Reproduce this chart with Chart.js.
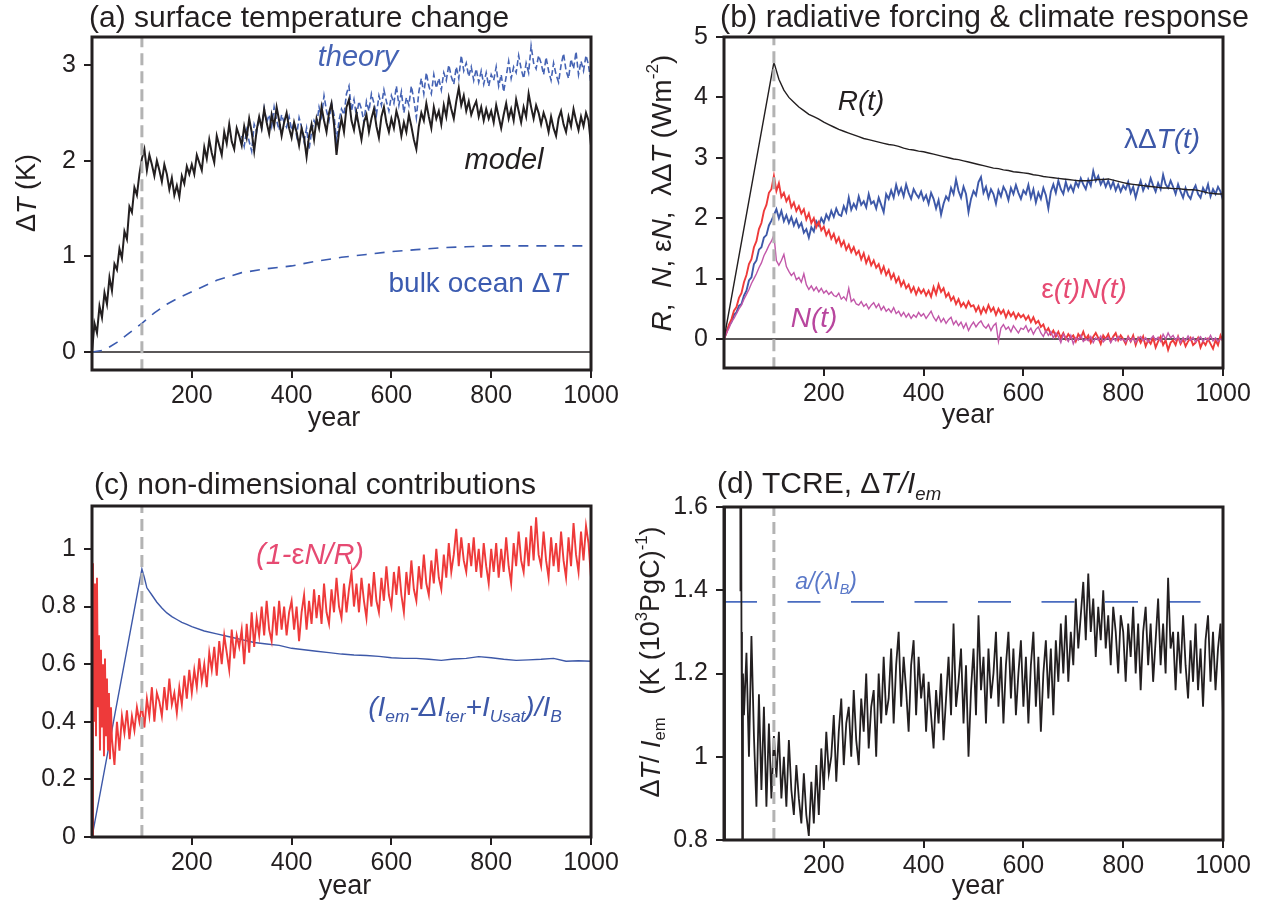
<!DOCTYPE html>
<html>
<head>
<meta charset="utf-8">
<script src="https://cdn.jsdelivr.net/npm/chart.js@4.4.1/dist/chart.umd.min.js"></script>
<style>
  html, body { margin: 0; padding: 0; background: #fff; }
  #wrap { position: relative; width: 1267px; height: 909px; overflow: hidden; }
  canvas { position: absolute; }
</style>
</head>
<body>
<div id="wrap">
  <canvas id="ca" width="633" height="450" style="left:0;top:0"></canvas>
  <canvas id="cb" width="634" height="450" style="left:633px;top:0"></canvas>
  <canvas id="cc" width="633" height="459" style="left:0;top:450px"></canvas>
  <canvas id="cd" width="634" height="459" style="left:633px;top:450px"></canvas>
</div>
<script>
// ---- sampling grids (years) ----
const years5 = [];
for (let y = 0; y <= 1000; y += 5) years5.push(y);
const yearsR = [0];
for (let y = 100; y <= 1000; y += 10) yearsR.push(y);
const yearsRedC = [];
for (let y = 0; y <= 40; y += 2) yearsRedC.push(y);
for (let y = 45; y <= 1000; y += 5) yearsRedC.push(y);
const yearsTcre = [1, 2, 3, 10, 20, 30, 32, 33, 34, 35, 36, 37, 38, 40];
for (let y = 45; y <= 1000; y += 5) yearsTcre.push(y);

const xTicks = [200, 400, 600, 800, 1000];
const emissionStop = 100;

// ---- (a) surface temperature change ----
const modelT = [
  0.00,0.30,0.20,0.48,0.36,0.62,0.50,0.78,0.64,0.92,0.86,1.08,0.98,1.26,1.18,1.52,1.46,1.72,1.64,1.86,
  2.02,2.12,1.90,2.06,1.96,1.84,2.00,1.90,1.78,1.96,1.86,1.70,1.82,1.64,1.74,1.62,1.84,1.76,1.94,1.86,
  1.96,1.86,2.06,1.98,1.90,2.14,2.02,2.22,2.08,1.98,2.26,2.16,2.06,2.30,2.18,2.38,2.20,2.12,2.34,2.26,
  2.16,2.36,2.24,2.44,2.30,2.10,2.32,2.46,2.34,2.54,2.40,2.28,2.48,2.36,2.56,2.42,2.26,2.40,2.50,2.34,
  2.24,2.40,2.30,2.16,2.34,2.24,2.04,2.26,2.38,2.22,2.44,2.34,2.56,2.42,2.30,2.50,2.60,2.38,2.06,2.30,
  2.44,2.30,2.56,2.64,2.42,2.32,2.50,2.36,2.22,2.40,2.48,2.30,2.44,2.54,2.36,2.24,2.46,2.56,2.40,2.30,
  2.44,2.34,2.52,2.42,2.26,2.40,2.30,2.48,2.36,2.22,2.12,2.36,2.50,2.42,2.60,2.46,2.34,2.56,2.44,2.52,
  2.38,2.58,2.46,2.66,2.54,2.44,2.62,2.76,2.58,2.68,2.52,2.62,2.48,2.56,2.62,2.46,2.56,2.42,2.54,2.44,
  2.52,2.40,2.58,2.46,2.34,2.48,2.60,2.44,2.54,2.42,2.64,2.52,2.40,2.56,2.46,2.70,2.56,2.44,2.58,2.50,
  2.38,2.50,2.42,2.30,2.46,2.34,2.26,2.44,2.52,2.38,2.30,2.46,2.36,2.54,2.42,2.32,2.46,2.36,2.50,2.42,
  2.16
];
// theory from year 300 on (below that it sits under the model line)
const theoryT = [
  2.26,2.15,2.32,2.20,2.10,2.38,2.30,2.45,2.34,2.55,2.40,2.48,2.36,2.56,2.42,2.32,2.48,2.40,2.35,2.46,
  2.32,2.40,2.26,2.45,2.35,2.20,2.34,2.12,2.30,2.42,2.36,2.56,2.46,2.68,2.52,2.42,2.60,2.48,2.20,2.42,
  2.54,2.48,2.70,2.78,2.52,2.64,2.46,2.62,2.54,2.40,2.62,2.52,2.70,2.60,2.48,2.68,2.58,2.74,2.62,2.52,
  2.68,2.60,2.78,2.58,2.72,2.50,2.66,2.58,2.78,2.64,2.45,2.72,2.86,2.70,2.92,2.78,2.70,2.90,2.76,2.86,
  2.74,2.92,2.84,3.00,2.88,2.80,2.98,2.86,3.10,2.94,3.02,2.88,2.98,2.84,2.96,2.82,2.94,2.80,2.92,2.78,
  2.90,2.84,2.98,2.78,2.90,2.72,2.88,3.04,2.86,2.98,2.92,3.10,2.96,2.86,3.02,2.92,3.20,3.02,2.96,3.10,
  3.02,2.90,3.08,2.94,2.84,3.02,2.90,2.82,3.00,3.12,2.94,2.86,3.06,2.96,3.14,2.90,3.04,2.94,3.10,3.00,
  2.80
];
const bulkYears = [0,25,50,75,100,125,150,175,200,250,300,350,400,450,500,550,600,650,700,750,800,900,1000];
const bulkT = [0,0.02,0.10,0.20,0.30,0.41,0.50,0.57,0.63,0.75,0.83,0.87,0.90,0.95,0.99,1.02,1.05,1.07,1.09,1.10,1.11,1.11,1.11];

// ---- (b) radiative forcing & climate response ----
const forcingR = [0,
  4.58,4.30,4.12,4.00,3.92,3.84,3.78,3.72,3.68,3.64,
  3.59,3.55,3.51,3.47,3.44,3.41,3.38,3.35,3.32,3.30,
  3.28,3.26,3.24,3.22,3.21,3.19,3.16,3.14,3.13,3.11,
  3.10,3.08,3.06,3.04,3.02,3.00,2.98,2.97,2.95,2.93,
  2.91,2.89,2.87,2.85,2.83,2.82,2.80,2.79,2.77,2.76,
  2.75,2.74,2.72,2.71,2.69,2.68,2.67,2.66,2.65,2.64,
  2.63,2.62,2.62,2.62,2.63,2.64,2.64,2.65,2.63,2.61,
  2.59,2.57,2.56,2.55,2.54,2.53,2.52,2.51,2.50,2.50,
  2.49,2.49,2.48,2.47,2.47,2.46,2.44,2.42,2.41,2.40,
  2.40
];
const lambdaDT = [
  0.00,0.12,0.22,0.28,0.40,0.44,0.55,0.58,0.72,0.80,0.97,1.02,1.24,1.30,1.48,1.52,1.68,1.72,1.88,1.96,
  2.05,2.15,2.00,2.12,1.95,2.05,1.92,2.02,1.88,1.98,1.85,1.92,1.76,1.82,1.68,1.85,1.78,1.95,1.88,2.00,
  1.92,2.06,1.98,2.12,2.02,2.16,2.06,2.04,2.20,2.10,2.34,2.14,2.24,2.16,2.36,2.22,2.28,2.18,2.40,2.24,
  2.28,2.16,2.34,2.22,2.10,2.40,2.32,2.46,2.34,2.55,2.40,2.50,2.36,2.56,2.42,2.32,2.48,2.40,2.34,2.44,
  2.30,2.38,2.24,2.42,2.32,2.16,2.30,2.06,2.24,2.36,2.30,2.50,2.40,2.64,2.45,2.34,2.52,2.40,2.10,2.32,
  2.45,2.38,2.60,2.68,2.42,2.52,2.34,2.48,2.40,2.24,2.46,2.36,2.52,2.44,2.30,2.50,2.40,2.55,2.42,2.32,
  2.46,2.40,2.55,2.34,2.48,2.26,2.42,2.32,2.50,2.38,2.16,2.44,2.56,2.42,2.62,2.48,2.40,2.60,2.46,2.54,
  2.44,2.60,2.52,2.66,2.56,2.48,2.64,2.54,2.78,2.62,2.70,2.56,2.64,2.52,2.62,2.50,2.60,2.46,2.56,2.44,
  2.54,2.48,2.60,2.42,2.52,2.34,2.50,2.62,2.46,2.56,2.50,2.66,2.54,2.44,2.58,2.48,2.72,2.56,2.50,2.62,
  2.52,2.40,2.56,2.44,2.34,2.50,2.38,2.32,2.46,2.54,2.40,2.34,2.50,2.42,2.56,2.36,2.48,2.40,2.52,2.44,
  2.30
];
const epsN = [
  0.00,0.10,0.24,0.33,0.47,0.53,0.68,0.76,0.94,1.06,1.24,1.32,1.52,1.62,1.82,1.92,2.12,2.22,2.42,2.48,
  2.70,2.45,2.58,2.35,2.42,2.28,2.36,2.18,2.26,2.12,2.20,2.08,2.15,1.98,2.08,1.92,2.00,1.85,1.94,1.80,
  1.86,1.72,1.80,1.66,1.74,1.60,1.68,1.54,1.62,1.48,1.56,1.44,1.52,1.40,1.46,1.32,1.42,1.26,1.36,1.22,
  1.30,1.18,1.24,1.10,1.20,1.06,1.14,1.00,1.08,0.94,1.02,0.88,0.96,0.84,0.90,0.78,0.86,0.74,0.84,0.76,
  0.82,0.72,0.80,0.70,0.86,0.74,0.90,0.78,0.84,0.70,0.76,0.64,0.70,0.58,0.66,0.54,0.60,0.52,0.62,0.54,
  0.56,0.46,0.54,0.42,0.52,0.44,0.56,0.46,0.52,0.40,0.50,0.42,0.48,0.36,0.46,0.38,0.44,0.34,0.42,0.36,
  0.40,0.32,0.38,0.28,0.36,0.26,0.30,0.20,0.24,0.12,0.18,0.08,0.14,0.04,0.12,0.02,0.10,0.00,0.08,0.02,
  0.06,-0.04,0.08,0.02,0.12,0.00,0.06,-0.06,0.04,0.10,0.02,-0.08,0.06,0.00,0.08,-0.04,0.04,0.10,-0.02,0.06,
  0.00,-0.08,0.04,-0.04,0.06,-0.10,0.02,-0.06,0.04,-0.12,-0.02,-0.08,0.02,-0.14,-0.04,0.04,-0.10,-0.02,-0.18,-0.06,
  -0.02,-0.10,0.04,-0.08,0.00,-0.12,-0.04,0.02,-0.10,-0.06,0.02,-0.14,-0.04,-0.10,0.00,-0.08,-0.16,-0.02,-0.10,0.06,
  -0.04
];
const heatN = [
  0.00,0.10,0.18,0.28,0.34,0.42,0.50,0.56,0.66,0.74,0.82,0.92,1.00,1.08,1.18,1.26,1.38,1.46,1.55,1.62,
  1.72,1.30,1.22,1.30,1.40,1.20,1.12,1.05,1.10,0.98,1.02,0.94,1.08,0.90,0.82,0.88,0.80,0.86,0.78,0.84,
  0.76,0.80,0.74,0.78,0.72,0.70,0.76,0.66,0.70,0.64,0.84,0.62,0.66,0.58,0.56,0.62,0.54,0.58,0.50,0.56,
  0.60,0.52,0.58,0.48,0.54,0.46,0.50,0.44,0.52,0.42,0.46,0.38,0.44,0.36,0.42,0.34,0.40,0.36,0.44,0.38,
  0.42,0.34,0.40,0.46,0.36,0.30,0.38,0.28,0.34,0.26,0.32,0.36,0.24,0.30,0.22,0.28,0.18,0.26,0.14,0.22,
  0.28,0.20,0.26,0.30,0.22,0.18,0.24,0.14,0.22,0.26,-0.04,0.18,0.24,0.16,0.20,0.12,0.22,0.16,0.10,0.18,
  0.16,0.22,0.12,0.18,0.08,0.16,0.20,0.10,0.04,0.14,0.06,0.12,0.02,0.10,0.04,-0.06,0.08,0.02,-0.04,0.06,
  -0.08,0.02,-0.02,0.06,-0.04,0.00,-0.03,0.04,-0.06,0.02,-0.02,0.05,-0.05,0.00,0.03,-0.06,0.02,-0.03,0.04,-0.02,
  0.00,-0.05,0.03,-0.04,0.02,-0.06,0.01,0.04,-0.03,0.02,-0.05,0.00,0.05,-0.02,0.03,-0.04,0.08,0.00,0.10,0.02,
  0.06,-0.02,0.04,-0.06,0.02,-0.03,0.05,-0.02,0.03,-0.05,0.00,0.04,-0.04,0.02,-0.02,0.06,-0.03,0.02,-0.04,0.00,
  -0.02
];

// ---- (c) non-dimensional contributions ----
const carbonYears = [0,100,105,110,120,130,140,150,160,170,180,190,200,
  225,250,275,300,325,350,375,400,425,450,475,500,525,550,575,600,625,650,675,700,725,750,775,800,825,850,875,900,925,950,975,1000];
const carbonRatio = [0,0.93,0.90,0.865,0.84,0.815,0.795,0.778,0.765,0.755,0.745,0.738,0.73,
  0.715,0.705,0.695,0.685,0.675,0.67,0.665,0.655,0.65,0.645,0.64,0.635,0.632,0.63,0.627,0.622,0.62,0.62,
  0.617,0.613,0.618,0.62,0.626,0.622,0.617,0.613,0.615,0.617,0.62,0.61,0.612,0.61];
const heatRatio = [
  0.00,0.95,0.40,0.88,0.35,0.90,0.45,0.70,0.30,0.65,0.38,0.60,0.28,0.62,0.35,0.55,0.30,0.50,0.27,0.45,0.34,
  0.25,0.40,0.30,0.42,0.36,0.44,0.34,0.42,0.37,0.45,0.40,
  0.46,0.38,0.48,0.42,0.52,0.40,0.50,0.47,0.42,0.52,0.44,0.55,0.46,0.50,0.43,0.52,0.46,0.56,0.48,0.58,
  0.50,0.58,0.52,0.62,0.54,0.60,0.52,0.64,0.58,0.66,0.56,0.68,0.60,0.70,0.64,0.58,0.72,0.62,0.70,0.66,
  0.72,0.60,0.74,0.64,0.78,0.66,0.76,0.70,0.80,0.70,0.82,0.72,0.68,0.80,0.70,0.82,0.72,0.80,0.70,0.78,
  0.82,0.72,0.80,0.68,0.78,0.84,0.72,0.82,0.74,0.86,0.76,0.84,0.74,0.88,0.78,0.74,0.86,0.78,0.90,0.80,
  0.76,0.88,0.78,0.86,0.92,0.80,0.88,0.78,0.90,0.82,0.76,0.88,0.80,0.92,0.82,0.78,0.90,0.82,0.94,0.84,
  0.80,0.92,0.84,0.94,0.84,0.78,0.92,0.84,0.96,0.86,0.82,0.94,0.86,0.98,0.88,0.84,0.96,0.88,1.00,0.90,
  0.86,0.98,0.90,1.02,0.92,0.98,1.07,0.94,1.04,0.96,0.92,1.02,0.94,1.04,0.92,1.00,0.90,1.02,0.94,0.88,
  1.00,0.92,1.02,0.90,1.00,0.92,1.04,0.94,0.88,1.02,0.94,1.06,0.96,0.92,1.04,0.94,1.08,0.96,1.11,0.98,
  0.94,1.06,0.96,0.90,1.04,0.94,1.02,0.92,1.06,0.96,0.90,1.04,0.94,1.09,0.98,0.92,1.06,0.96,1.08,1.02,
  0.90
];

// ---- (d) TCRE ----
const tcre = [
  0.5,3.0,2.8,2.5,2.2,2.0,2.2,1.4,1.9,1.3,1.05,0.6,1.2,1.1,
  1.25,1.00,1.29,1.05,0.88,1.15,0.92,1.12,0.88,1.08,0.90,
  1.05,0.95,1.06,0.90,1.00,0.88,1.04,0.92,0.86,0.98,0.90,0.84,0.96,0.86,0.81,0.94,0.84,0.98,0.86,1.02,
  0.92,1.06,0.96,1.00,1.10,0.94,1.06,1.14,0.98,1.08,1.12,1.00,1.16,1.04,0.98,1.14,1.06,1.20,1.02,1.12,
  1.16,1.00,1.20,1.08,1.24,1.10,1.14,1.26,1.08,1.22,1.30,1.12,1.24,1.16,1.06,1.22,1.28,1.10,1.24,1.14,
  1.20,1.06,1.18,1.10,1.02,1.16,1.08,1.20,1.04,1.14,1.24,1.10,1.32,1.12,1.18,1.26,1.08,1.22,1.00,1.16,
  1.26,1.10,1.34,1.16,1.24,1.08,1.26,1.14,1.20,1.30,1.12,1.24,1.08,1.22,1.30,1.14,1.26,1.10,1.20,1.28,
  1.12,1.24,1.08,1.22,1.30,1.12,1.24,1.06,1.20,1.28,1.14,1.26,1.10,1.28,1.18,1.32,1.20,1.34,1.18,1.30,
  1.22,1.38,1.26,1.34,1.42,1.28,1.44,1.30,1.38,1.24,1.36,1.28,1.40,1.26,1.34,1.22,1.36,1.30,1.20,1.34,
  1.30,1.18,1.32,1.24,1.36,1.20,1.32,1.16,1.30,1.36,1.22,1.32,1.18,1.28,1.38,1.22,1.32,1.20,1.43,1.26,
  1.30,1.16,1.30,1.20,1.34,1.22,1.14,1.28,1.18,1.32,1.16,1.26,1.12,1.28,1.34,1.18,1.30,1.16,1.26,1.32,
  1.10
];
const tcreTheory = 1.372;
const tcreTheoryYears = [0, 955];

// ---- helpers ----
const FONT = '"Liberation Sans", Arial, Helvetica, sans-serif';
const INK = '#231f20';
const pts = (xs, ys) => ys.map((y, i) => ({ x: xs[i], y: y }));

function line(data, color, width, extra) {
  return Object.assign({
    data: data, borderColor: color, borderWidth: width,
    pointRadius: 0, fill: false, tension: 0, clip: 0
  }, extra || {});
}
function stopLine(ymin, ymax) {
  return line([{ x: emissionStop, y: ymin }, { x: emissionStop, y: ymax }], '#b3b3b3', 3,
    { borderDash: [12, 6], order: 0 });
}

function drawRich(ctx, it) {
  const size = it.size || 24;
  ctx.save();
  ctx.translate(it.x, it.y);
  if (it.rot) ctx.rotate(it.rot);
  let w = 0;
  const parts = it.segs.map(s => {
    const small = s.sub || s.sup;
    const font = (s.i ? 'italic ' : '') + (small ? size * 0.62 : size) + 'px ' + FONT;
    ctx.font = font;
    const mw = ctx.measureText(s.t).width;
    w += mw;
    return { t: s.t, font: font, mw: mw, dy: s.sub ? size * 0.32 : (s.sup ? -size * 0.36 : 0) };
  });
  let cx = it.align === 'left' ? 0 : -w / 2;
  ctx.textBaseline = 'middle';
  ctx.textAlign = 'left';
  ctx.fillStyle = it.color || INK;
  parts.forEach(p => { ctx.font = p.font; ctx.fillText(p.t, cx, p.dy); cx += p.mw; });
  ctx.restore();
}

function deco(offX, offY, texts) {
  return {
    id: 'deco',
    afterDraw(chart) {
      const ctx = chart.ctx, a = chart.chartArea;
      ctx.save();
      ctx.strokeStyle = INK;
      ctx.lineWidth = 3;
      ctx.strokeRect(a.left, a.top, a.right - a.left, a.bottom - a.top);
      ctx.restore();
      texts.forEach(t => drawRich(ctx, Object.assign({}, t, { x: t.x - offX, y: t.y - offY })));
    }
  };
}

function scales(ymin, ymax, yTicks, yw, xh) {
  const tickFont = { family: FONT, size: 25 };
  const grid = { drawOnChartArea: false, drawTicks: true, tickLength: 8, color: INK, lineWidth: 2 };
  return {
    x: {
      type: 'linear', min: 0, max: 1000,
      afterBuildTicks: s => { s.ticks = xTicks.map(v => ({ value: v })); },
      afterFit: s => { s.height = xh; },
      grid: grid, border: { display: false },
      ticks: { font: tickFont, color: INK, padding: 3, maxRotation: 0, autoSkip: false,
               callback: v => String(v) }
    },
    y: {
      type: 'linear', min: ymin, max: ymax,
      afterBuildTicks: s => { s.ticks = yTicks.map(v => ({ value: v })); },
      afterFit: s => { s.width = yw; },
      grid: grid, border: { display: false },
      ticks: { font: tickFont, color: INK, padding: 8, autoSkip: false,
               callback: v => String(+(+v).toFixed(2)) }
    }
  };
}

function makeChart(id, datasets, sc, pad, plugin) {
  return new Chart(document.getElementById(id), {
    type: 'line',
    data: { datasets: datasets },
    options: {
      responsive: false, animation: false, devicePixelRatio: 1,
      layout: { padding: pad },
      scales: sc,
      plugins: { legend: { display: false }, tooltip: { enabled: false } }
    },
    plugins: [plugin]
  });
}

const BLUE = '#3d58a8', RED = '#ee3a3a', MAG = '#c257a9', PINK = '#e64a72';
const PI2 = -Math.PI / 2;

// ---- panel (a) ----
makeChart('ca', [
  stopLine(-0.2, 3.3),
  line(pts(years5, modelT), INK, 2, { order: 1 }),
  line(pts(years5.slice(60), theoryT), '#4563b4', 1.6, { order: 2, borderDash: [6, 3] }),
  line(pts(bulkYears, bulkT), '#3b5bb0', 1.6, { order: 3, borderDash: [10, 8] }),
  line([{ x: 0, y: 0 }, { x: 1000, y: 0 }], INK, 1.5, { order: 4 })
], scales(-0.188, 3.293, [0, 1, 2, 3], 92, 80), { left: 0, top: 37, right: 42, bottom: 0 },
deco(0, 0, [
  { x: 89, y: 19, align: 'left', size: 30, segs: [{ t: '(a) surface temperature change' }] },
  { x: 28, y: 193, rot: PI2, size: 27, segs: [{ t: 'Δ' }, { t: 'T', i: 1 }, { t: ' (K)' }] },
  { x: 334, y: 419, size: 27, segs: [{ t: 'year' }] },
  { x: 358, y: 58, size: 29, color: '#4563b4', segs: [{ t: 'theory', i: 1 }] },
  { x: 504, y: 161, size: 29, segs: [{ t: 'model', i: 1 }] },
  { x: 478, y: 284, size: 28, color: '#3b5bb0', segs: [{ t: 'bulk ocean Δ' }, { t: 'T', i: 1 }] }
]));

// ---- panel (b) ----
makeChart('cb', [
  stopLine(-0.5, 5),
  line(pts(yearsR, forcingR), INK, 1.4, { order: 1 }),
  line(pts(years5, heatN), MAG, 1.4, { order: 2 }),
  line(pts(years5, epsN), RED, 1.9, { order: 3 }),
  line(pts(years5, lambdaDT), BLUE, 1.9, { order: 4 }),
  line([{ x: 0, y: 0 }, { x: 1000, y: 0 }], INK, 1.5, { order: 5 })
], scales(-0.48, 5, [0, 1, 2, 3, 4, 5], 91, 82), { left: 0, top: 37, right: 44, bottom: 0 },
deco(633, 0, [
  { x: 720, y: 19, align: 'left', size: 30.5, segs: [{ t: '(b) radiative forcing & climate response' }] },
  { x: 663, y: 193, rot: PI2, size: 28, segs: [
    { t: 'R', i: 1 }, { t: ',  ' }, { t: 'N', i: 1 }, { t: ', ε' }, { t: 'N', i: 1 },
    { t: ',  λΔ' }, { t: 'T', i: 1 }, { t: ' (Wm' }, { t: '-2', sup: 1 }, { t: ')' }] },
  { x: 968, y: 416, size: 27, segs: [{ t: 'year' }] },
  { x: 861, y: 102, size: 28, segs: [{ t: 'R(t)', i: 1 }] },
  { x: 1162, y: 140, size: 28, color: BLUE, segs: [{ t: 'λΔ' }, { t: 'T(t)', i: 1 }] },
  { x: 1084, y: 290, size: 28, color: PINK, segs: [{ t: 'ε' }, { t: '(t)N(t)', i: 1 }] },
  { x: 814, y: 319, size: 28, color: '#b8469e', segs: [{ t: 'N(t)', i: 1 }] }
]));

// ---- panel (c) ----
makeChart('cc', [
  stopLine(0, 1.15),
  line(pts(yearsRedC, heatRatio), RED, 1.9, { order: 1 }),
  line(pts(carbonYears, carbonRatio), BLUE, 1.4, { order: 2 })
], scales(0, 1.149, [0, 0.2, 0.4, 0.6, 0.8, 1], 92, 72), { left: 0, top: 56, right: 42, bottom: 0 },
deco(0, 450, [
  { x: 94, y: 486, align: 'left', size: 30, segs: [{ t: '(c) non-dimensional contributions' }] },
  { x: 345, y: 887, size: 27, segs: [{ t: 'year' }] },
  { x: 310, y: 556, size: 29, color: PINK, segs: [{ t: '(1-', i: 1 }, { t: 'ε' }, { t: 'N/R)', i: 1 }] },
  { x: 465, y: 708, size: 28, color: BLUE, segs: [
    { t: '(I', i: 1 }, { t: 'em', i: 1, sub: 1 }, { t: '-Δ', i: 1 }, { t: 'I', i: 1 }, { t: 'ter', i: 1, sub: 1 },
    { t: '+I', i: 1 }, { t: 'Usat', i: 1, sub: 1 }, { t: ')/I', i: 1 }, { t: 'B', i: 1, sub: 1 }] }
]));

// ---- panel (d) ----
makeChart('cd', [
  stopLine(0.8, 1.6),
  line(pts(yearsTcre, tcre), INK, 1.8, { order: 1 }),
  line(pts(tcreTheoryYears, [tcreTheory, tcreTheory]), '#4a6cc0', 1.6, { order: 2, borderDash: [33, 30.5] })
], scales(0.8, 1.6, [0.8, 1, 1.2, 1.4, 1.6], 91, 69), { left: 0, top: 57, right: 44, bottom: 0 },
deco(633, 450, [
  { x: 717, y: 485, align: 'left', size: 30, segs: [
    { t: '(d) TCRE, Δ' }, { t: 'T/I', i: 1 }, { t: 'em', i: 1, sub: 1 }] },
  { x: 652, y: 662, rot: PI2, size: 27, segs: [
    { t: 'Δ' }, { t: 'T', i: 1 }, { t: '/ ' }, { t: 'I', i: 1 }, { t: 'em', sub: 1 },
    { t: '   (K (10' }, { t: '3', sup: 1 }, { t: 'PgC)' }, { t: '-1', sup: 1 }, { t: ')' }] },
  { x: 978, y: 887, size: 27, segs: [{ t: 'year' }] },
  { x: 826, y: 583, size: 23, color: '#5a78c8', segs: [
    { t: 'a/(λI', i: 1 }, { t: 'B', i: 1, sub: 1 }, { t: ')', i: 1 }] }
]));
</script>
</body>
</html>
